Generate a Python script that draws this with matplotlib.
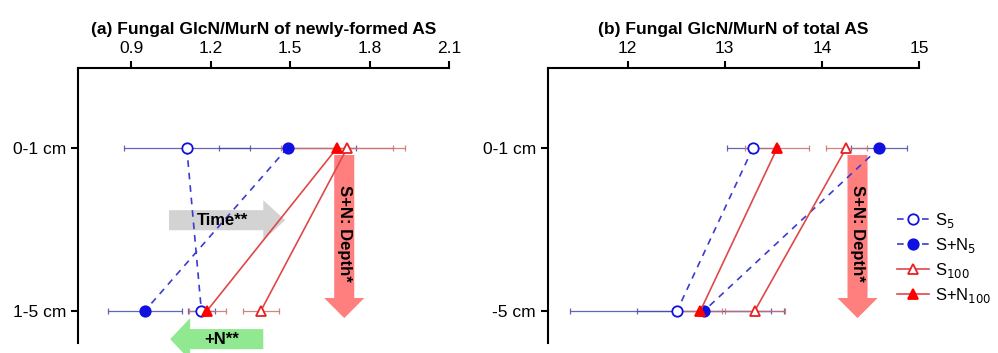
import numpy as np
import matplotlib.pyplot as plt
from matplotlib.patches import FancyArrow

plt.rcParams['font.family'] = ['Liberation Sans', 'DejaVu Sans']
plt.rcParams['font.size'] = 12

depth_a = ["0-1 cm", "1-5 cm"]
depth_b = ["0-1 cm", "-5 cm"]
ypos = [0, 1]

series = ["S$_5$", "S+N$_5$", "S$_{100}$", "S+N$_{100}$"]

# (a) newly-formed AS: mean and error per depth
new_mean = {
    "S5": [1.11, 1.165],
    "SN5": [1.49, 0.953],
    "S100": [1.715, 1.39],
    "SN100": [1.677, 1.187],
}
new_err = {
    "S5": [0.237, 0.05],
    "SN5": [0.257, 0.14],
    "S100": [0.219, 0.068],
    "SN100": [0.212, 0.07],
}

# (b) total AS
tot_mean = {
    "S5": [13.29, 12.51],
    "SN5": [14.59, 12.79],
    "S100": [14.25, 13.31],
    "SN100": [13.54, 12.75],
}
tot_err = {
    "S5": [0.27, 1.1],
    "SN5": [0.29, 0.69],
    "S100": [0.21, 0.31],
    "SN100": [0.33, 0.22],
}

blue = "#1010e0"
red = "#e82020"
styles = {
    "S5": dict(marker="o", mfc="white", mec=blue, color="#3b3bd0", ls=(0, (4, 3.5)), ecol="#4a4aa8"),
    "SN5": dict(marker="o", mfc=blue, mec=blue, color="#3b3bd0", ls=(0, (4, 3.5)), ecol="#4a4aa8"),
    "S100": dict(marker="^", mfc="white", mec=red, color="#e04848", ls="-", ecol="#c87070"),
    "SN100": dict(marker="^", mfc="#ff0000", mec="#ff0000", color="#e04848", ls="-", ecol="#c87070"),
}
keys = ["S5", "SN5", "S100", "SN100"]

fig = plt.figure(figsize=(9.98, 3.53), dpi=100)
ax1 = fig.add_axes([0.0782, 0.028, 0.372, 0.779])
ax2 = fig.add_axes([0.549, 0.028, 0.372, 0.779])


def draw(ax, means, errs, xlim, xticks, ylabels, title):
    handles = []
    for z, k in enumerate(keys):
        st = styles[k]
        ax.errorbar(means[k], ypos, xerr=errs[k], fmt="none", ecolor=st["ecol"],
                    elinewidth=0.9, capsize=2, capthick=0.9, alpha=0.85, zorder=2)
        h, = ax.plot(means[k], ypos, color=st["color"], ls=st["ls"], lw=1.2,
                     marker=st["marker"], ms=7.5, mfc=st["mfc"], mec=st["mec"],
                     mew=1.3, zorder=3 + z)
        handles.append(h)
    ax.set_xlim(*xlim)
    ax.set_ylim(1.2, -0.49)
    ax.set_xticks(xticks)
    ax.set_yticks(ypos)
    ax.set_yticklabels(ylabels)
    ax.xaxis.tick_top()
    ax.spines["right"].set_visible(False)
    ax.spines["bottom"].set_visible(False)
    for s in ["top", "left"]:
        ax.spines[s].set_linewidth(1.5)
    ax.tick_params(axis="both", width=1.5, length=5, labelsize=12.5)
    ax.tick_params(axis="x", pad=4)
    ax.set_title(title, fontweight="bold", fontsize=12.5, pad=5)
    return handles


draw(ax1, new_mean, new_err, (0.7, 2.1), [0.9, 1.2, 1.5, 1.8, 2.1],
     depth_a, "(a) Fungal GlcN/MurN of newly-formed AS")
ax1.set_xticklabels(["0.9", "1.2", "1.5", "1.8", "2.1"])
handles = draw(ax2, tot_mean, tot_err, (11.18, 15), [12, 13, 14, 15],
               depth_b, "(b) Fungal GlcN/MurN of total AS")

# annotation arrows (axes coords)
ax1.add_patch(FancyArrow(0.245, 0.447, 0.313, 0, width=0.073, head_width=0.145,
                         head_length=0.059, length_includes_head=True,
                         color="#cfcfcf", alpha=0.9, transform=ax1.transAxes,
                         zorder=1, lw=0))
ax1.text(0.388, 0.447, "Time**", transform=ax1.transAxes, ha="center", va="center",
         fontweight="bold", fontsize=12, zorder=10)

ax1.add_patch(FancyArrow(0.499, 0.0145, -0.251, 0, width=0.073, head_width=0.153,
                         head_length=0.054, length_includes_head=True,
                         color="#90e890", transform=ax1.transAxes, zorder=1,
                         lw=0, clip_on=False))
ax1.text(0.388, 0.0145, "+N**", transform=ax1.transAxes, ha="center", va="center",
         fontweight="bold", fontsize=12, zorder=10)

for ax, xc in [(ax1, 0.717), (ax2, 0.834)]:
    ax.add_patch(FancyArrow(xc, 0.684, 0, -0.593, width=0.054, head_width=0.108,
                            head_length=0.073, length_includes_head=True,
                            color="#ff7070", alpha=0.9, transform=ax.transAxes,
                            zorder=1, lw=0))
    ax.text(xc, 0.40, "S+N: Depth*", transform=ax.transAxes, ha="center",
            va="center", rotation=-90, fontweight="bold", fontsize=12, zorder=10)

ax2.legend(handles, series, loc="center left", bbox_to_anchor=(0.9, 0.31),
           frameon=False, fontsize=12, handlelength=1.9, handletextpad=0.4,
           labelspacing=0.35)

fig.savefig("out.png", dpi=100)
